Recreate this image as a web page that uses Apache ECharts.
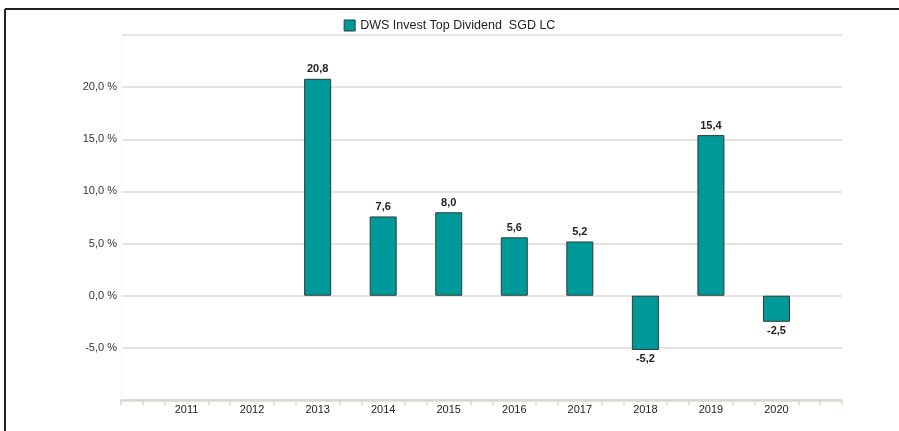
<!DOCTYPE html>
<html>
<head>
<meta charset="utf-8">
<script src="https://cdn.jsdelivr.net/npm/echarts@6/dist/echarts.min.js"></script>
<style>
html,body{margin:0;padding:0;background:#fff;}
#chart{width:899px;height:431px;}
</style>
</head>
<body>
<div id="chart"></div>
<script>
var years = [2011, 2012, 2013, 2014, 2015, 2016, 2017, 2018, 2019, 2020];
var values = [null, null, 20.8, 7.6, 8.0, 5.6, 5.2, -5.2, 15.4, -2.5];
var seriesName = 'DWS Invest Top Dividend  SGD LC';
var yTicks = [-10, -5, 0, 5, 10, 15, 20, 25];

var fmt = function (v) { return v.toFixed(1).replace('.', ','); };

var barData = [];
for (var i = 0; i < years.length; i++) {
  if (values[i] === null) continue;
  barData.push({
    value: [years[i], values[i]],
    label: { position: values[i] < 0 ? 'bottom' : 'top' }
  });
}

var chart = echarts.init(document.getElementById('chart'));
var font = 'Liberation Sans, Arial, sans-serif';
var axisColor = '#dcd8cf';

chart.setOption({
  animation: false,
  textStyle: { fontFamily: font },
  graphic: [
    { type: 'line', shape: { x1: 5, y1: 9, x2: 899, y2: 9 }, style: { stroke: '#222', lineWidth: 2 } },
    { type: 'line', shape: { x1: 5, y1: 9, x2: 5, y2: 431 }, style: { stroke: '#222', lineWidth: 2 } }
  ],
  legend: {
    top: 14,
    left: 'center',
    itemWidth: 11,
    itemHeight: 11,
    itemGap: 4,
    textStyle: { fontSize: 12.5, color: '#222', fontFamily: font },
    data: [{ name: seriesName, icon: 'rect', itemStyle: { color: '#009999', borderColor: '#2b3a3a', borderWidth: 1 } }]
  },
  grid: { left: 121, right: 57, top: 35, bottom: 31, containLabel: false },
  xAxis: [{
    type: 'value',
    min: years[0] - 1,
    max: years[years.length - 1] + 1,
    interval: 1,
    position: 'bottom',
    axisLine: { onZero: false, lineStyle: { color: axisColor, width: 2.5 } },
    axisTick: { show: false },
    minorTick: { show: true, splitNumber: 3, length: 5, lineStyle: { color: axisColor, width: 1.5 } },
    splitLine: { show: false },
    axisLabel: {
      margin: 4,
      fontSize: 11,
      color: '#222',
      fontFamily: font,
      formatter: function (v) { return (v >= years[0] && v <= years[years.length - 1]) ? String(v) : ''; }
    }
  }, {
    type: 'value',
    min: years[0] - 1,
    max: years[years.length - 1] + 1,
    interval: years.length + 1,
    position: 'bottom',
    axisLine: { show: false, onZero: false },
    axisTick: { show: true, length: 5, lineStyle: { color: axisColor, width: 1.5 } },
    axisLabel: { show: false },
    splitLine: { show: false }
  }],
  yAxis: {
    type: 'value',
    min: yTicks[0],
    max: yTicks[yTicks.length - 1],
    interval: 5,
    axisLine: { show: true, lineStyle: { color: '#f4f4f4', width: 1 } },
    axisTick: { show: false },
    splitLine: { lineStyle: { color: '#dedad2', width: 1.5 } },
    axisLabel: {
      margin: 4,
      fontSize: 11,
      color: '#333',
      fontFamily: font,
      formatter: function (v) {
        if (v === yTicks[0] || v === yTicks[yTicks.length - 1]) return '';
        return fmt(v) + ' %';
      }
    }
  },
  series: [{
    name: seriesName,
    type: 'bar',
    barWidth: 27,
    data: barData,
    itemStyle: { color: '#009999', borderColor: '#2b3a3a', borderWidth: 1 },
    label: {
      show: true,
      distance: 4,
      fontSize: 11,
      fontWeight: 'bold',
      color: '#222',
      fontFamily: font,
      formatter: function (p) { return fmt(p.value[1]); }
    }
  }]
});
</script>
</body>
</html>
